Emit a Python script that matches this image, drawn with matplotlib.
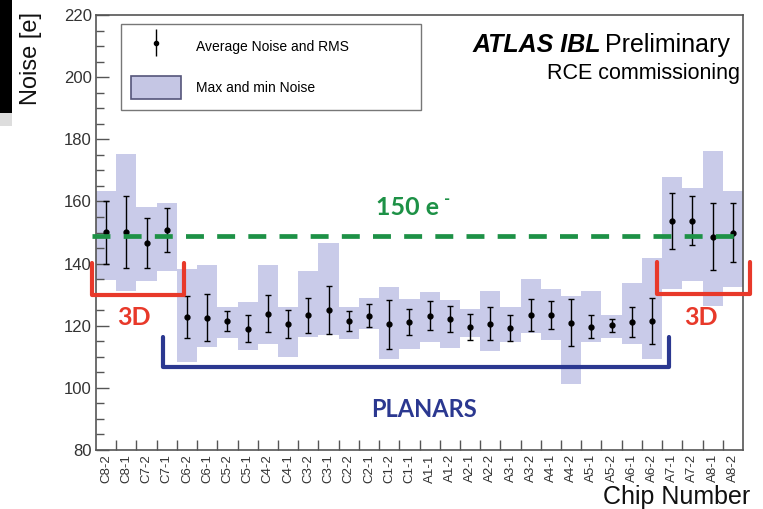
import numpy as np
import matplotlib
matplotlib.use("Agg")
import matplotlib.pyplot as plt
from matplotlib.patches import Rectangle, Patch
from matplotlib.legend_handler import HandlerErrorbar

# chip labels along the stave (C side then A side)
chips = ["C8-2", "C8-1", "C7-2", "C7-1", "C6-2", "C6-1", "C5-2", "C5-1",
         "C4-2", "C4-1", "C3-2", "C3-1", "C2-2", "C2-1", "C1-2", "C1-1",
         "A1-1", "A1-2", "A2-1", "A2-2", "A3-1", "A3-2", "A4-1", "A4-2",
         "A5-1", "A5-2", "A6-1", "A6-2", "A7-1", "A7-2", "A8-1", "A8-2"]

# average noise and its RMS
noise_mean = [150.1, 150.1, 146.6, 150.8, 122.9, 122.6, 121.4, 119.1,
              123.9, 120.7, 123.4, 125.0, 121.5, 123.2, 120.4, 121.2,
              123.2, 122.1, 119.5, 120.7, 119.3, 123.4, 123.4, 121.0,
              119.7, 120.1, 121.3, 121.5, 153.7, 153.8, 148.7, 150.0]
noise_rms = [10.1, 11.6, 8.0, 7.0, 6.8, 7.5, 3.2, 4.5,
             5.9, 4.5, 5.6, 7.7, 3.2, 3.75, 7.75, 4.25,
             4.65, 4.15, 4.25, 5.45, 4.15, 5.15, 4.55, 7.5,
             3.6, 2.15, 4.85, 7.45, 8.95, 7.85, 10.85, 9.45]

# max and min noise
noise_max = [163.4, 175.4, 158.1, 159.4, 138.3, 139.6, 126.0, 127.7,
             139.4, 126.0, 137.6, 146.7, 126.0, 129.0, 132.5, 128.7,
             130.8, 128.2, 125.5, 131.1, 126.0, 135.1, 131.9, 129.6,
             131.1, 123.4, 133.7, 141.9, 167.9, 164.2, 176.1, 163.4]
noise_min = [134.8, 131.2, 134.3, 137.6, 108.2, 113.1, 116.2, 112.1,
             114.1, 110.0, 116.4, 117.0, 115.6, 119.1, 109.2, 112.5,
             114.8, 112.7, 116.4, 112.0, 114.8, 117.8, 115.4, 101.2,
             114.8, 115.9, 114.1, 109.2, 131.9, 134.3, 126.3, 132.5]

threshold = 149

W, H = 763, 509
fig = plt.figure(figsize=(W / 100, H / 100), dpi=100)
ax = fig.add_axes([96 / W, 1 - 450 / H, 647 / W, 435 / H])

x = np.arange(len(chips)) + 0.5
lo = np.array(noise_min)
hi = np.array(noise_max)
ax.bar(x, hi - lo, bottom=lo, width=1.0, color="#c9cbe9", edgecolor="none", zorder=1)
ax.errorbar(x, noise_mean, yerr=noise_rms, fmt="o", color="black", ms=3.5,
            elinewidth=1.0, capsize=2.5, capthick=1.0, zorder=3)
# plain handle (no caps) for the legend
eb_leg = ax.errorbar([], [], yerr=[], fmt="o", color="black", ms=3, elinewidth=1.0, capsize=0)

ax.set_xlim(0, 32)
ax.set_ylim(80, 220)

# ROOT-like axes
for s in ax.spines.values():
    s.set_color("#555555")
    s.set_linewidth(1.2)
ax.set_yticks(np.arange(80, 221, 20))
ax.set_yticks(np.arange(80, 221, 5), minor=True)
ax.tick_params(axis="y", which="major", direction="in", length=9.5, width=1.0,
               color="#555555", labelsize=12, labelcolor="#333333", pad=3)
ax.tick_params(axis="y", which="minor", direction="in", length=6, width=1.0, color="#555555")
ax.set_xticks(x, labels=chips, rotation=90)
ax.set_xticks(np.arange(1, 32), minor=True)
ax.tick_params(axis="x", which="major", length=0, labelsize=9.5, labelcolor="#333333", pad=3)
ax.tick_params(axis="x", which="minor", direction="in", length=7, width=1.0, color="#555555")
for lab in ax.get_xticklabels() + ax.get_yticklabels():
    lab.set_family("Liberation Sans")

fig.text(31 / W, 1 - 12 / H, "Noise [e]", rotation=90, ha="center", va="top",
         fontsize=17, family="Liberation Sans", color="#111111")
fig.text(750 / W, 1 - 497 / H, "Chip Number", ha="right", va="center",
         fontsize=18, family="Liberation Sans", color="#111111")

# legend
leg = ax.legend([eb_leg, Patch(facecolor="#c5c6e4", edgecolor="#55557a", lw=1.2)],
                ["Average Noise and RMS", "Max and min Noise"],
                handler_map={type(eb_leg): HandlerErrorbar(yerr_size=1.0)},
                loc="upper left", bbox_to_anchor=(0.038, 0.788, 0.464, 0.191), mode="expand",
                handlelength=3.6, handleheight=2.2, labelspacing=1.3,
                handletextpad=1.1, borderpad=0.75, borderaxespad=0, fancybox=False,
                edgecolor="#777777", framealpha=1,
                prop={"family": "Liberation Sans", "size": 10})
leg.get_frame().set_linewidth(1.0)

fig.text(601 / W, 1 - 45 / H, "ATLAS IBL", ha="right", va="center", fontsize=18,
         family="Liberation Sans", weight="bold", style="italic")
fig.text(605 / W, 1 - 45 / H, "Preliminary", ha="left", va="center", fontsize=18,
         family="Liberation Sans")
fig.text(740 / W, 1 - 73 / H, "RCE commissioning", ha="right", va="center", fontsize=15.5,
         family="Liberation Sans")

# annotations
green = "#1d9146"
red = "#e8392a"
navy = "#2b3890"
ax.plot([-0.2, 31.6], [threshold, threshold], color=green, lw=3.4, dashes=(3.8, 2.8),
        clip_on=False, zorder=4)
ax.text(15.4, 157.9, "150 e", color=green, fontsize=18, weight="bold",
        family="Lato", ha="center", va="center", zorder=5)
ax.text(17.35, 160.8, "-", color=green, fontsize=12, weight="bold",
        family="Lato", ha="center", va="center", zorder=5)
bk = dict(lw=3, clip_on=False, solid_joinstyle="round", solid_capstyle="round", zorder=4)
ax.plot([-0.2, -0.2, 4.35, 4.35], [140.2, 129.9, 129.9, 140.2], color=red, **bk)
ax.plot([27.77, 27.77, 32.33, 32.33], [140.5, 130.2, 130.2, 140.5], color=red, **bk)
ax.plot([3.32, 3.32, 28.32, 28.32], [116.4, 106.7, 106.7, 116.4], color=navy, **bk)
ax.text(1.88, 122.5, "3D", color=red, fontsize=18, weight="bold", family="Lato",
        ha="center", va="center")
ax.text(29.9, 122.8, "3D", color=red, fontsize=18, weight="bold", family="Lato",
        ha="center", va="center", clip_on=False)
ax.text(16.2, 92.9, "PLANARS", color=navy, fontsize=17, weight="bold", family="Lato",
        ha="center", va="center")

# dark strip at the left edge of the screenshot
fig.patches.append(Rectangle((0, 1 - 113 / H), 12 / W, 113 / H, transform=fig.transFigure,
                             facecolor="black", edgecolor="none"))
fig.patches.append(Rectangle((0, 1 - 126 / H), 12 / W, 13 / H, transform=fig.transFigure,
                             facecolor="#dddddd", edgecolor="none"))

fig.savefig("out.png", dpi=100)
